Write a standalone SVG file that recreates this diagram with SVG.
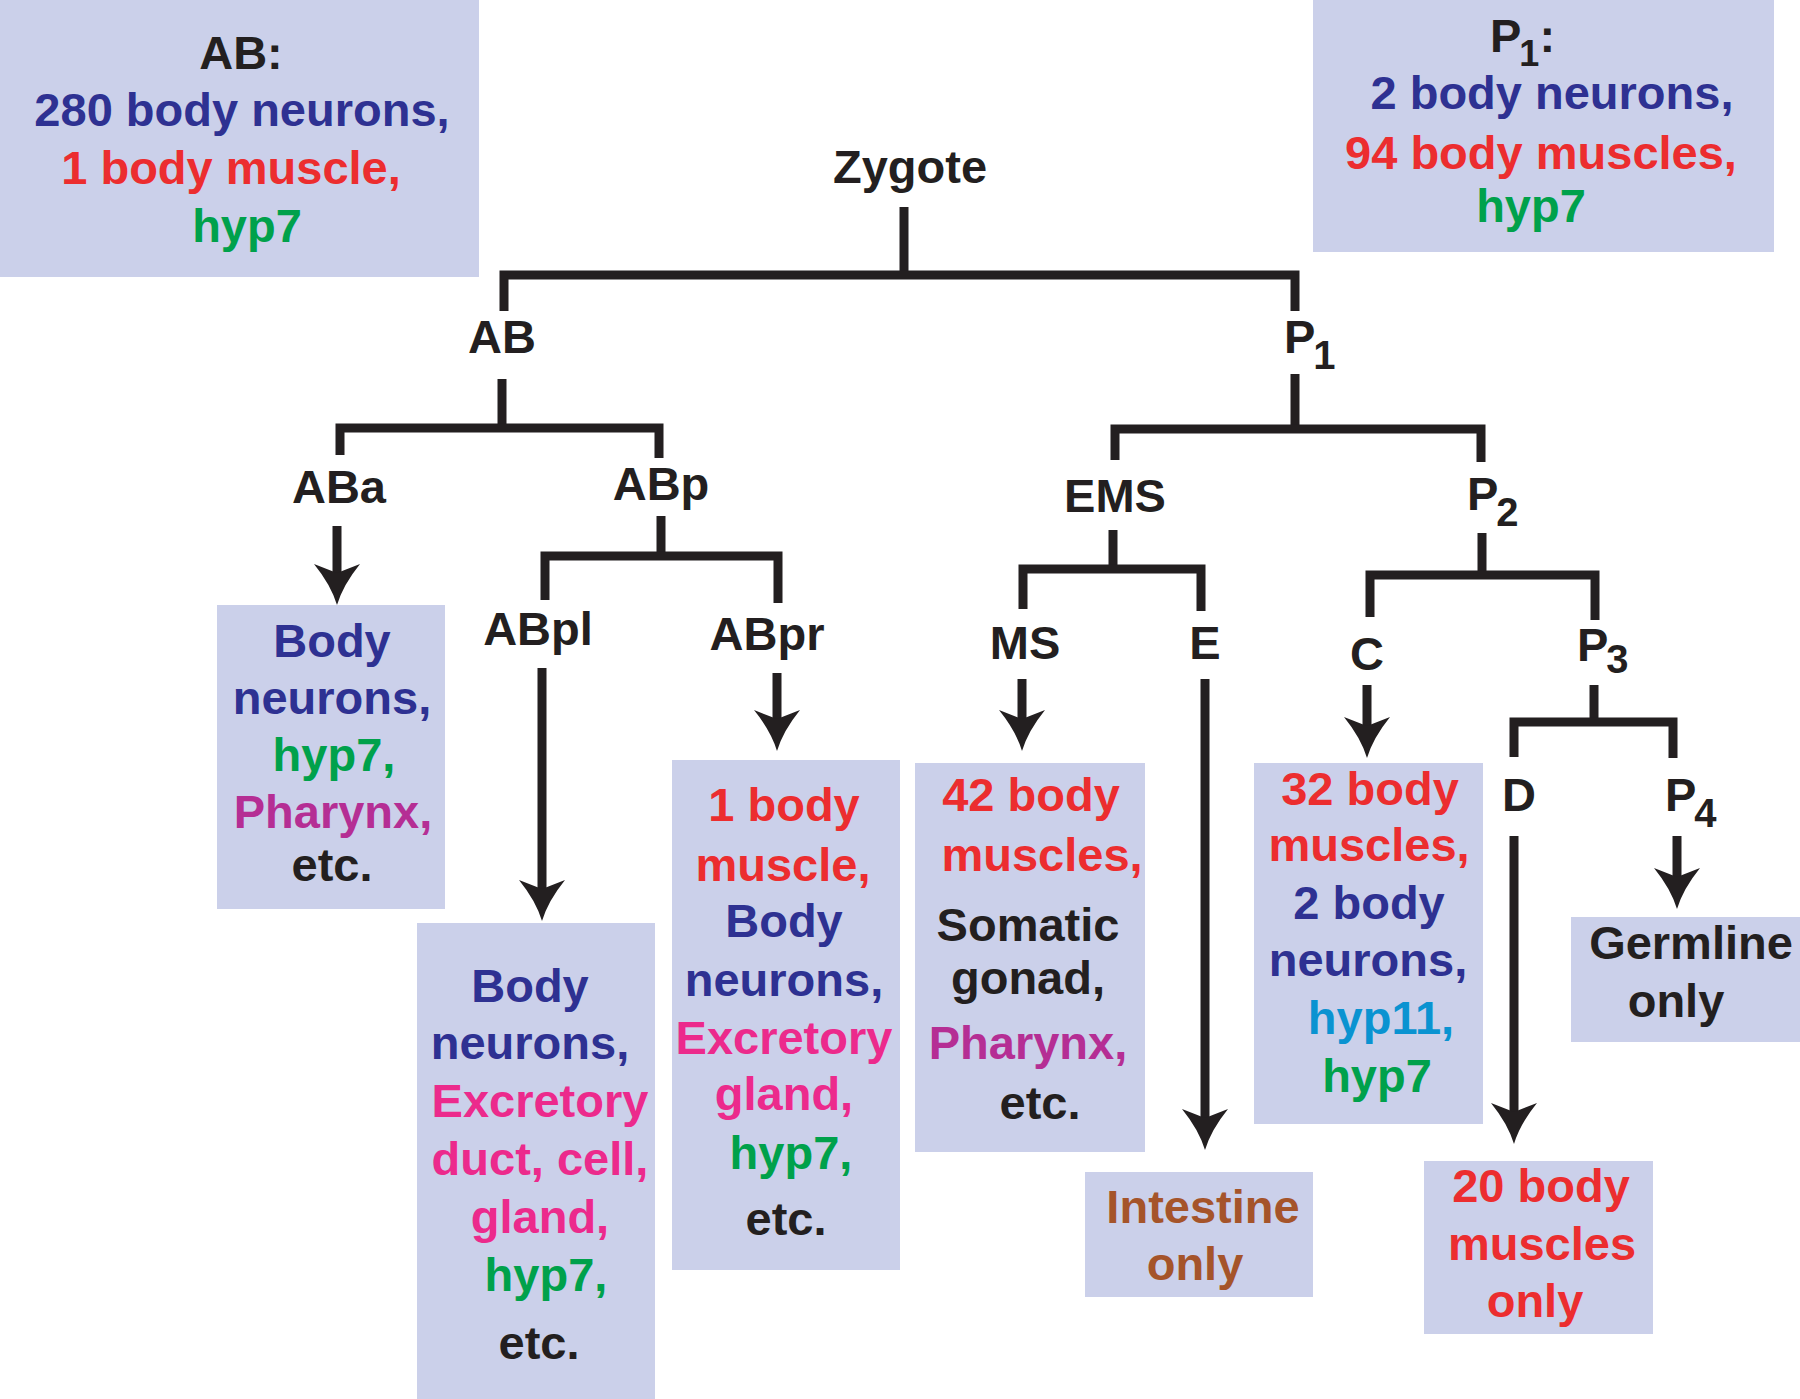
<svg xmlns="http://www.w3.org/2000/svg" width="1800" height="1399" viewBox="0 0 1800 1399">
<style>
text{font-family:"Liberation Sans",Arial,Helvetica,sans-serif;font-weight:bold;font-size:47px;fill:#231f20}
.c{text-anchor:middle}
.box{fill:#cbd0ea}
.blu{fill:#2e3192}
.red{fill:#ec2d2f}
.grn{fill:#00a14b}
.pur{fill:#b52e94}
.mag{fill:#ec2a8c}
.cyn{fill:#0a93d1}
.brn{fill:#a5542a}
.blk{fill:#231f20}
.sub{font-size:40px}
.ln{fill:none;stroke:#231f20;stroke-width:9;stroke-linejoin:miter;stroke-linecap:butt}
.ar{fill:none;stroke:#231f20;stroke-width:9;stroke-linecap:butt;marker-end:url(#ah)}
</style>
<defs>
<marker id="ah" markerUnits="userSpaceOnUse" orient="auto" refX="0" refY="0" markerWidth="60" markerHeight="60" viewBox="-20 -30 60 60" overflow="visible">
<path d="M32,0 Q12,-6 -9,-23 L0,0 L-9,23 Q12,6 32,0 Z" fill="#231f20"/>
</marker>
</defs>
<rect width="1800" height="1399" fill="#ffffff"/>

<g id="connectors">
<path class="ln" d="M904,207 V275"/>
<path class="ln" d="M504,311 V275 H1295 V311"/>
<path class="ln" d="M502,379 V428"/>
<path class="ln" d="M340,455 V428 H659 V458"/>
<path class="ln" d="M661,516 V556"/>
<path class="ln" d="M545,600 V556 H778 V603"/>
<path class="ln" d="M1295,374 V429"/>
<path class="ln" d="M1115,460 V429 H1481 V462"/>
<path class="ln" d="M1113,530 V569"/>
<path class="ln" d="M1023,609 V569 H1201 V611"/>
<path class="ln" d="M1482,533 V575"/>
<path class="ln" d="M1370,617 V575 H1595 V620"/>
<path class="ln" d="M1594,685 V722"/>
<path class="ln" d="M1514,757 V722 H1673 V758"/>
<path class="ar" d="M337,526 V573"/>
<path class="ar" d="M542,668 V889"/>
<path class="ar" d="M777,673 V719"/>
<path class="ar" d="M1022,679 V719"/>
<path class="ar" d="M1205,679 V1118"/>
<path class="ar" d="M1367,685 V726"/>
<path class="ar" d="M1677,836 V877"/>
<path class="ar" d="M1514,836 V1112"/>
</g>

<g id="ab-summary">
<rect class="box" x="0" y="0" width="479" height="277"/>
<text class="c blk" x="241" y="69">AB:</text>
<text class="c blu" x="242" y="126">280 body neurons,</text>
<text class="c red" x="231" y="184">1 body muscle,</text>
<text class="c grn" x="247" y="242">hyp7</text>
</g>

<g id="p1-summary">
<rect class="box" x="1313" y="0" width="461" height="252"/>
<text x="1490" y="52">P<tspan font-size="36" dx="-2" dy="14">1</tspan><tspan dy="-14">:</tspan></text>
<text class="c blu" x="1552" y="109">2 body neurons,</text>
<text class="c red" x="1541" y="169">94 body muscles,</text>
<text class="c grn" x="1531" y="222">hyp7</text>
</g>

<g id="zygote"><text class="c" x="910" y="183">Zygote</text></g>
<g id="ab"><text class="c" x="502" y="353">AB</text></g>
<g id="p1"><text x="1284" y="353">P<tspan class="sub" dx="-2" dy="16">1</tspan></text></g>
<g id="aba"><text class="c" x="339" y="503">ABa</text></g>
<g id="abp"><text class="c" x="661" y="500">ABp</text></g>
<g id="abpl"><text class="c" x="538" y="645">ABpl</text></g>
<g id="abpr"><text class="c" x="767" y="650">ABpr</text></g>
<g id="ems"><text class="c" x="1115" y="512">EMS</text></g>
<g id="p2"><text x="1467" y="510">P<tspan class="sub" dx="-2" dy="16">2</tspan></text></g>
<g id="ms"><text class="c" x="1025" y="659">MS</text></g>
<g id="e"><text class="c" x="1205" y="659">E</text></g>
<g id="c"><text class="c" x="1367" y="670">C</text></g>
<g id="p3"><text x="1577" y="661">P<tspan class="sub" dx="-2" dy="12">3</tspan></text></g>
<g id="d"><text class="c" x="1519" y="811">D</text></g>
<g id="p4"><text x="1665" y="811">P<tspan class="sub" dx="-2" dy="16">4</tspan></text></g>

<g id="aba-fate">
<rect class="box" x="217" y="605" width="228" height="304"/>
<text class="c blu" x="332" y="657">Body</text>
<text class="c blu" x="332" y="714">neurons,</text>
<text class="c grn" x="334" y="771">hyp7,</text>
<text class="c pur" x="333" y="828">Pharynx,</text>
<text class="c blk" x="332" y="881">etc.</text>
</g>

<g id="abpl-fate">
<rect class="box" x="417" y="923" width="238" height="476"/>
<text class="c blu" x="530" y="1002">Body</text>
<text class="c blu" x="530" y="1059">neurons,</text>
<text class="c mag" x="540" y="1117">Excretory</text>
<text class="c mag" x="540" y="1175">duct, cell,</text>
<text class="c mag" x="540" y="1233">gland,</text>
<text class="c grn" x="546" y="1291">hyp7,</text>
<text class="c blk" x="539" y="1359">etc.</text>
</g>

<g id="abpr-fate">
<rect class="box" x="672" y="760" width="228" height="510"/>
<text class="c red" x="784" y="821">1 body</text>
<text class="c red" x="783" y="881">muscle,</text>
<text class="c blu" x="784" y="937">Body</text>
<text class="c blu" x="784" y="996">neurons,</text>
<text class="c mag" x="784" y="1054">Excretory</text>
<text class="c mag" x="784" y="1110">gland,</text>
<text class="c grn" x="791" y="1169">hyp7,</text>
<text class="c blk" x="786" y="1235">etc.</text>
</g>

<g id="ms-fate">
<rect class="box" x="915" y="763" width="230" height="389"/>
<text class="c red" x="1031" y="811">42 body</text>
<text class="c red" x="1042" y="871">muscles,</text>
<text class="c blk" x="1028" y="941">Somatic</text>
<text class="c blk" x="1028" y="994">gonad,</text>
<text class="c pur" x="1028" y="1059">Pharynx,</text>
<text class="c blk" x="1040" y="1119">etc.</text>
</g>

<g id="e-fate">
<rect class="box" x="1085" y="1172" width="228" height="125"/>
<text class="c brn" x="1203" y="1223">Intestine</text>
<text class="c brn" x="1195" y="1280">only</text>
</g>

<g id="c-fate">
<rect class="box" x="1254" y="763" width="229" height="361"/>
<text class="c red" x="1370" y="805">32 body</text>
<text class="c red" x="1369" y="861">muscles,</text>
<text class="c blu" x="1369" y="919">2 body</text>
<text class="c blu" x="1368" y="976">neurons,</text>
<text class="c cyn" x="1381" y="1034">hyp11,</text>
<text class="c grn" x="1377" y="1092">hyp7</text>
</g>

<g id="d-fate">
<rect class="box" x="1424" y="1161" width="229" height="173"/>
<text class="c red" x="1541" y="1202">20 body</text>
<text class="c red" x="1542" y="1260">muscles</text>
<text class="c red" x="1535" y="1317">only</text>
</g>

<g id="p4-fate">
<rect class="box" x="1571" y="917" width="229" height="125"/>
<text class="c blk" x="1691" y="959">Germline</text>
<text class="c blk" x="1676" y="1017">only</text>
</g>
</svg>
